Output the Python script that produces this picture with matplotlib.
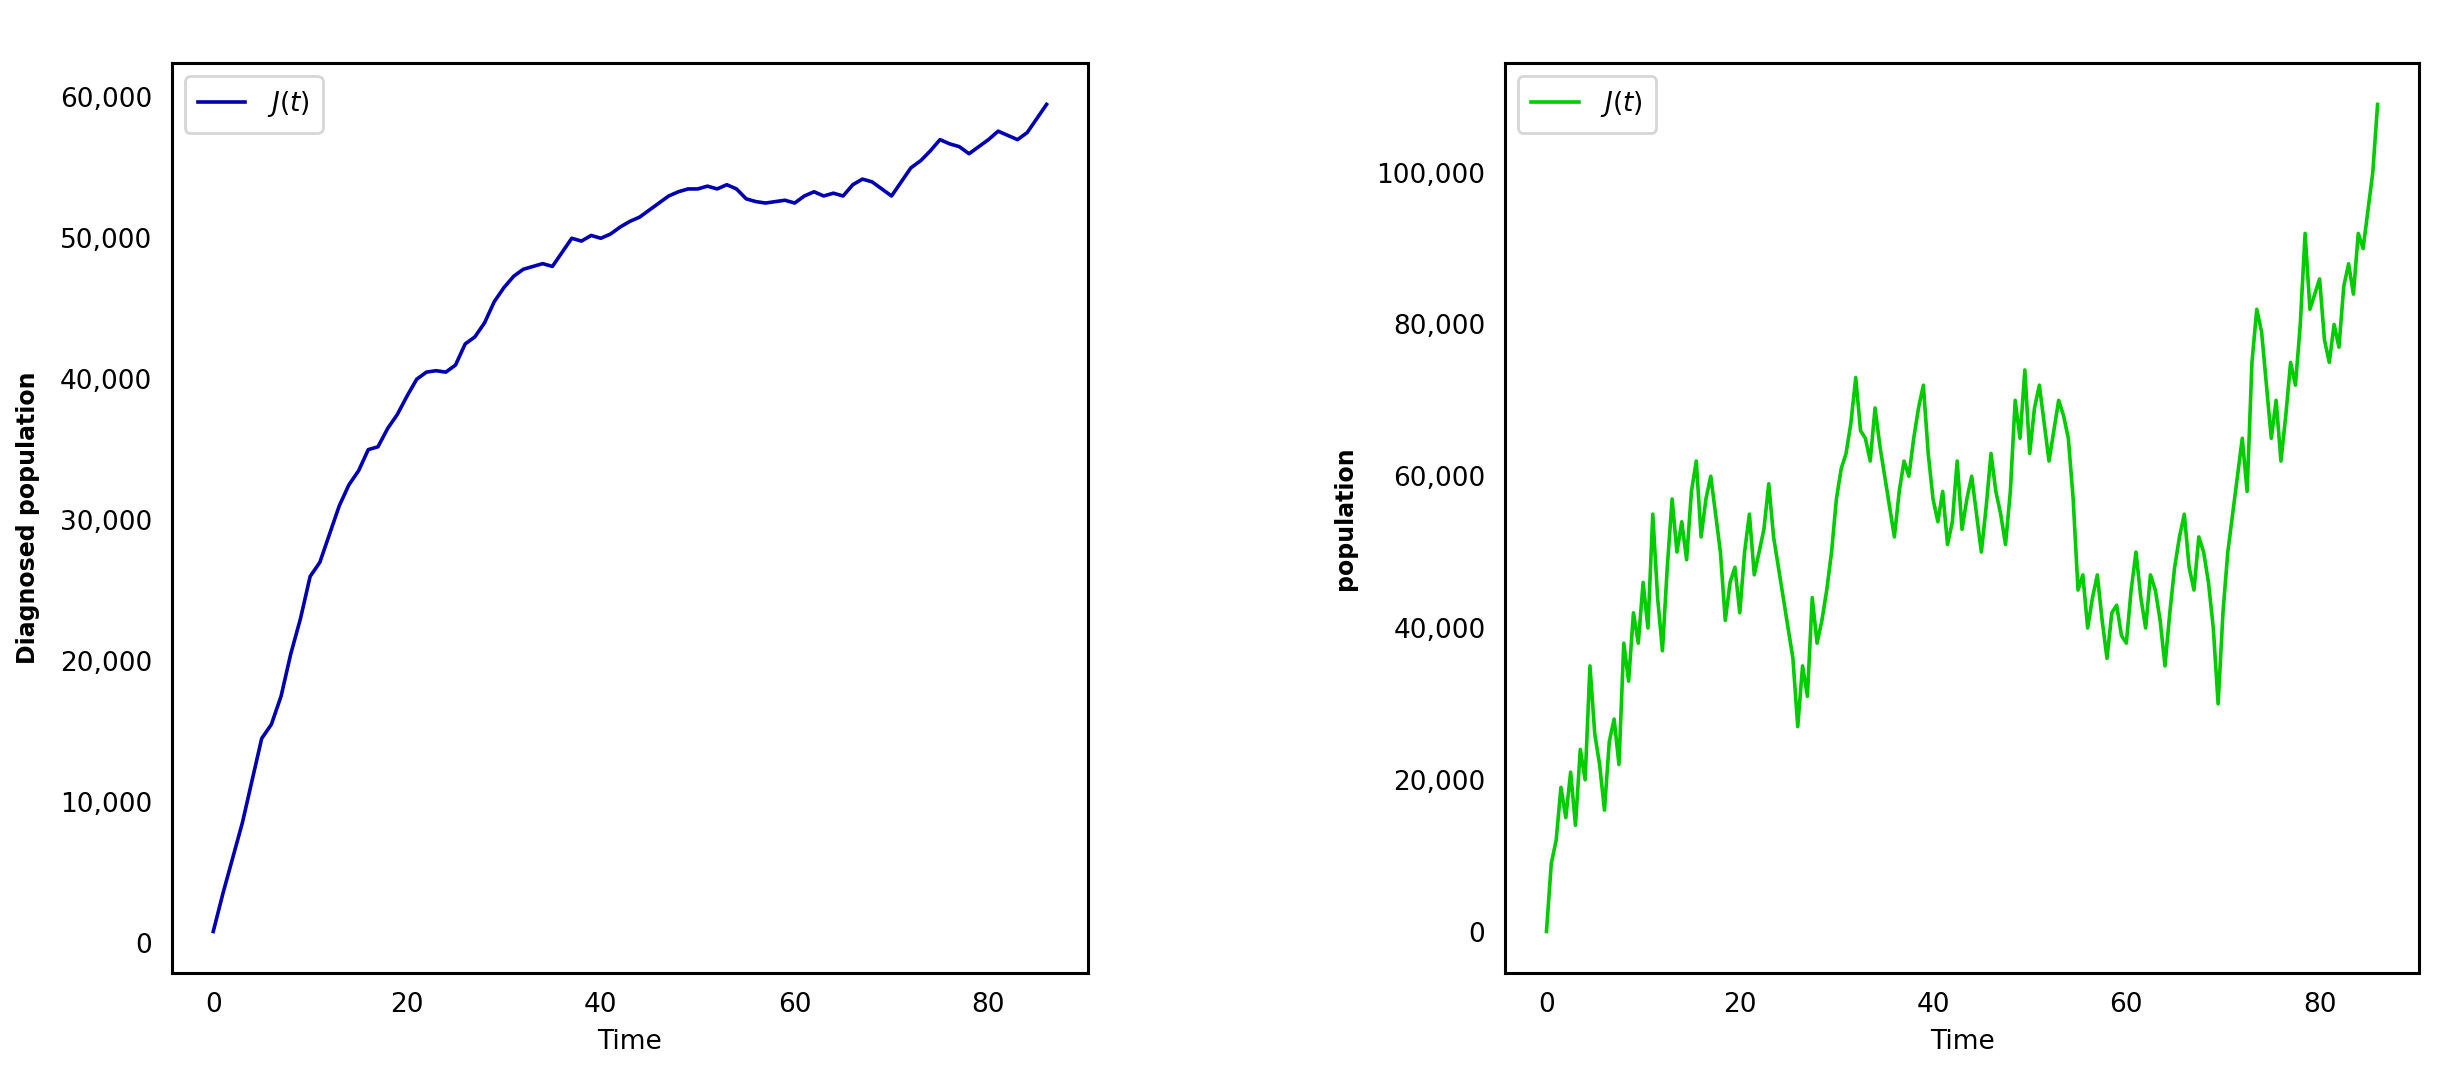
import matplotlib
matplotlib.use("Agg")
import matplotlib.pyplot as plt
from matplotlib.ticker import FuncFormatter

t_left = list(range(0, 87))
j_left = [800, 3500, 6000, 8500, 11500, 14500, 15500, 17500, 20500, 23000,
          26000, 27000, 29000, 31000, 32500, 33500, 35000, 35200, 36500, 37500,
          38800, 40000, 40500, 40600, 40500, 41000, 42500, 43000, 44000, 45500,
          46500, 47300, 47800, 48000, 48200, 48000, 49000, 50000, 49800, 50200,
          50000, 50300, 50800, 51200, 51500, 52000, 52500, 53000, 53300, 53500,
          53500, 53700, 53500, 53800, 53500, 52800, 52600, 52500, 52600, 52700,
          52500, 53000, 53300, 53000, 53200, 53000, 53800, 54200, 54000, 53500,
          53000, 54000, 55000, 55500, 56200, 57000, 56700, 56500, 56000, 56500,
          57000, 57600, 57300, 57000, 57500, 58500, 59500]

t_right = [i * 0.5 for i in range(173)]
j_right = [0, 9000, 12000, 19000, 15000, 21000, 14000, 24000, 20000, 35000, 26000, 22000, 16000, 25000, 28000, 22000,
           38000, 33000, 42000, 38000, 46000, 40000, 55000, 44000, 37000, 48000, 57000, 50000, 54000, 49000,
           58000, 62000, 52000, 57000, 60000, 55000, 50000, 41000, 46000, 48000, 42000, 50000, 55000, 47000,
           50000, 53000, 59000, 52000, 48000, 44000, 40000, 36000, 27000, 35000, 31000, 44000, 38000, 41000,
           45000, 50000, 57000, 61000, 63000, 67000, 73000, 66000, 65000, 62000, 69000, 64000, 60000, 56000,
           52000, 58000, 62000, 60000, 65000, 69000, 72000, 63000, 57000, 54000, 58000, 51000, 54000, 62000,
           53000, 57000, 60000, 55000, 50000, 56000, 63000, 58000, 55000, 51000, 58000, 70000, 65000, 74000,
           63000, 69000, 72000, 67000, 62000, 66000, 70000, 68000, 65000, 57000, 45000, 47000, 40000, 44000,
           47000, 41000, 36000, 42000, 43000, 39000, 38000, 45000, 50000, 44000, 40000, 47000, 45000, 41000,
           35000, 42000, 48000, 52000, 55000, 48000, 45000, 52000, 50000, 46000, 40000, 30000, 42000, 50000,
           55000, 60000, 65000, 58000, 75000, 82000, 79000, 72000, 65000, 70000, 62000, 68000, 75000, 72000,
           80000, 92000, 82000, 84000, 86000, 78000, 75000, 80000, 77000, 85000, 88000, 84000, 92000, 90000,
           95000, 100000, 109000]

fig = plt.figure(figsize=(24.51, 10.87), dpi=100)
ax1 = fig.add_axes([0.070, 0.105, 0.374, 0.837])
ax2 = fig.add_axes([0.614, 0.105, 0.373, 0.837])

fmt = FuncFormatter(lambda v, p: f"{int(v):,}")

for ax, t, y, col, lab in [(ax1, t_left, j_left, '#0000b0', 'Diagnosed population'),
                           (ax2, t_right, j_right, '#00cc00', 'population')]:
    ax.plot(t, y, color=col, lw=2.6, label=r'$J(t)$')
    ax.yaxis.set_major_formatter(fmt)
    ax.set_xticks([0, 20, 40, 60, 80])
    ax.tick_params(length=0, pad=14, labelsize=19)
    for s in ax.spines.values():
        s.set_linewidth(2.2)
    ax.set_xlabel('Time', fontsize=19, labelpad=8)
    ax.set_ylabel(lab, fontsize=17, fontweight='bold', labelpad=14)
    leg = ax.legend(loc='upper left', fontsize=19, frameon=True, fancybox=True,
                    handlelength=1.8, borderpad=0.5)
    leg.get_frame().set_edgecolor('#cccccc')
    leg.get_frame().set_linewidth(2)

ax2.set_yticks([0, 20000, 40000, 60000, 80000, 100000])
fig.savefig('out.png', dpi=100)
